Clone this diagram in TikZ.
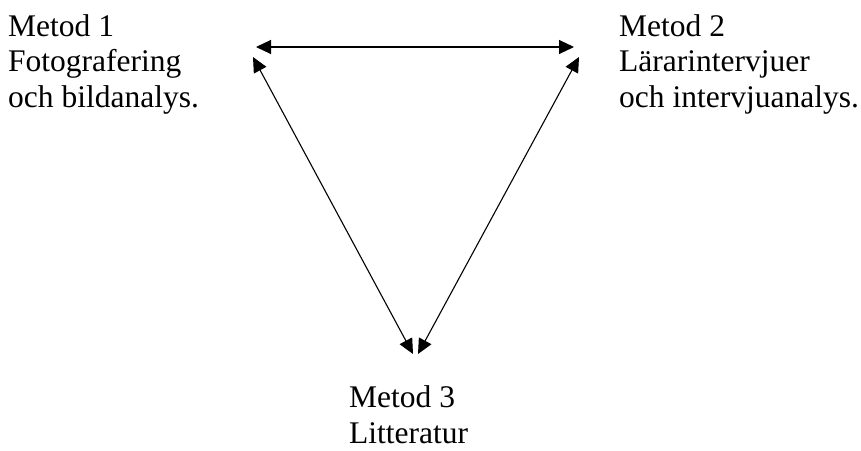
\documentclass[tikz,border=0pt]{standalone}
\usepackage{fontspec}
\setmainfont{Liberation Serif}
\usetikzlibrary{arrows.meta}
\begin{document}
\begin{tikzpicture}[x=1pt,y=-1pt,
  lbl/.style={anchor=base west,inner sep=0pt,align=left,font=\fontsize{31.5}{35.5}\selectfont},
  conn/.style={line width=1.1pt,{Triangle[length=15pt,width=14pt]}-{Triangle[length=15pt,width=14pt]}}]
\useasboundingbox (0,0) rectangle (861,450);
\node[lbl] (m1) at (8,107) {Metod 1\\Fotografering\\och bildanalys.};
\node[lbl] (m2) at (619,107) {Metod 2\\Lärarintervjuer\\och intervjuanalys.};
\node[lbl] (m3) at (349,443) {Metod 3\\Litteratur};
\coordinate (h1) at (256,47);
\coordinate (h2) at (574,47);
\coordinate (l1) at (253,57);
\coordinate (l2) at (413,354);
\coordinate (r1) at (579,57);
\coordinate (r2) at (418,354);
\draw[conn] (h1) -- (h2);
\draw[conn] (l1) -- (l2);
\draw[conn] (r1) -- (r2);
\end{tikzpicture}
\end{document}
